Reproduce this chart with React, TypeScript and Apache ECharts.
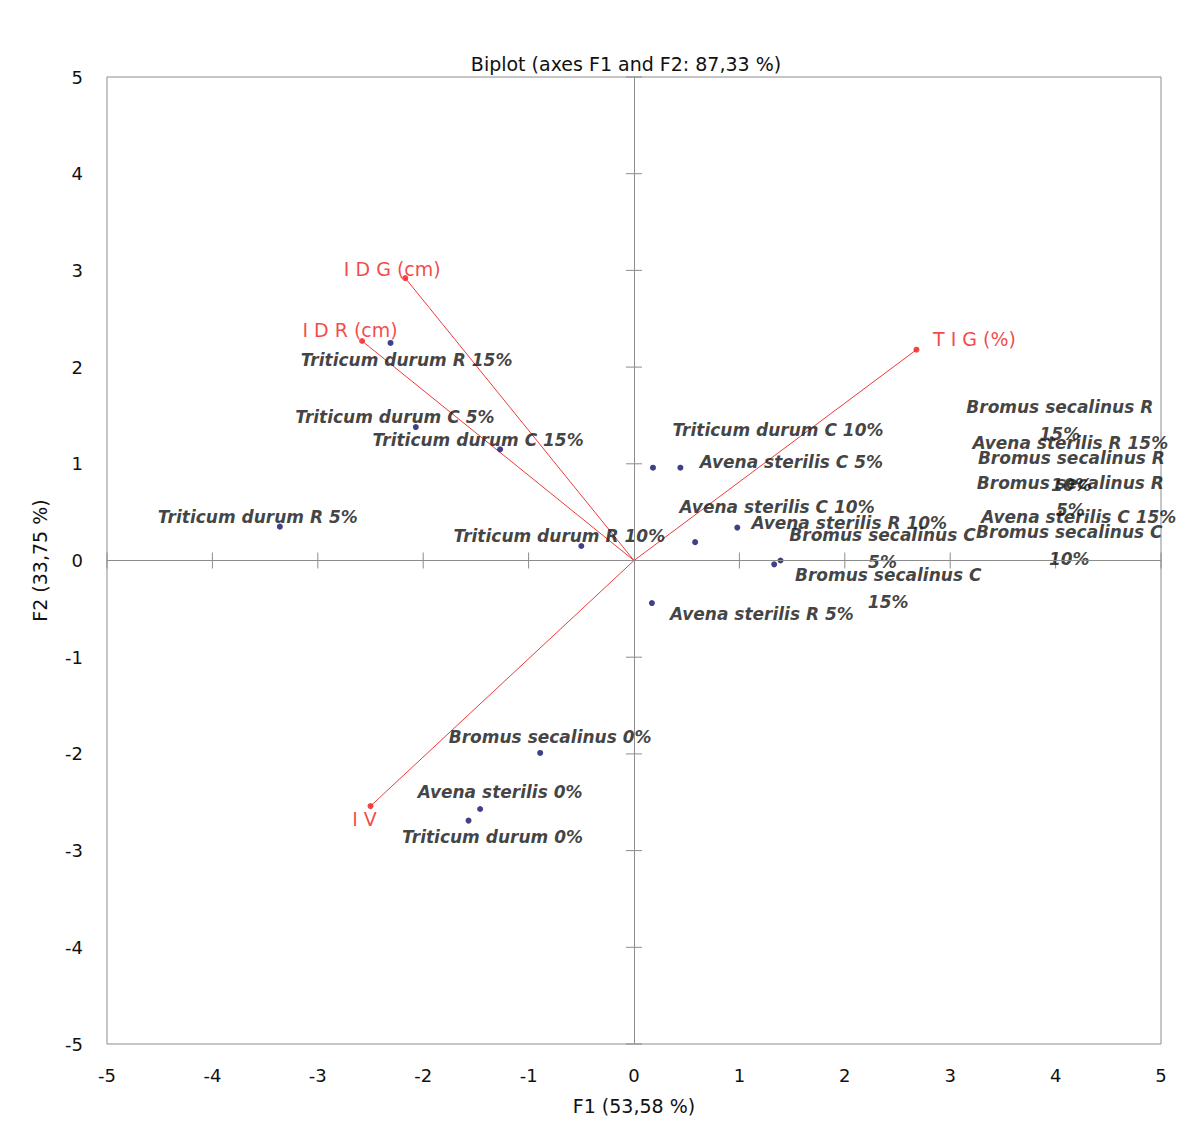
import React, { useEffect, useRef } from "react";
import * as echarts from "echarts";

// ---- Data ----
const titleText = "Biplot (axes F1 and F2: 87,33 %)";
const xAxisName = "F1 (53,58 %)";
const yAxisName = "F2 (33,75 %)";
const axisTicks = [-5, -4, -3, -2, -1, 0, 1, 2, 3, 4, 5];

// Observations (F1, F2)
const obsNames = [
  "Triticum durum R 15%",
  "Triticum durum C 5%",
  "Triticum durum C 15%",
  "Triticum durum R 5%",
  "Triticum durum R 10%",
  "Triticum durum C 10%",
  "Avena sterilis C 5%",
  "Avena sterilis C 10%",
  "Avena sterilis R 10%",
  "Bromus secalinus C\n5%",
  "Bromus secalinus C\n15%",
  "Avena sterilis R 5%",
  "Bromus secalinus 0%",
  "Avena sterilis 0%",
  "Triticum durum 0%",
];
const obsF1 = [-2.31, -2.07, -1.27, -3.36, -0.5, 0.18, 0.44, 0.58, 0.98, 1.39, 1.33, 0.17, -0.89, -1.46, -1.57];
const obsF2 = [2.25, 1.38, 1.15, 0.35, 0.15, 0.96, 0.96, 0.19, 0.34, 0.0, -0.04, -0.44, -1.99, -2.57, -2.69];

// Observations whose points lie beyond the right edge: only their labels show (label anchors)
const offNames = [
  "Bromus secalinus R\n15%",
  "Avena sterilis R 15%",
  "Bromus secalinus R\n10%",
  "Bromus secalinus R\n5%",
  "Avena sterilis C 15%",
  "Bromus secalinus C\n10%",
];
const offF1 = [4.04, 4.14, 4.15, 4.14, 4.22, 4.13];
const offF2 = [1.45, 1.22, 0.92, 0.66, 0.45, 0.16];

// Variables (vectors)
const varNames = ["I D G (cm)", "I D R (cm)", "T I G (%)", "I V"];
const varF1 = [-2.17, -2.58, 2.68, -2.5];
const varF2 = [2.92, 2.27, 2.18, -2.54];

// ---- Layout (label offsets in pixels) ----
const obsLabelOffset = [
  [16, 17], [-21, -10], [-22, -9], [-22, -10], [-22, -10],
  [125, -38], [111, -6], [82, -35], [112, -5], [102, -12],
  [114, 24], [110, 11], [10, -16], [20, -17], [24, 16],
];
const varLabelOffset = [[-13, -9], [-12, -11], [58, -11], [-6, 13]];

const LABEL_FONT = "'DejaVu Sans', 'Noto Sans', sans-serif";

export default function App() {
  const ref = useRef<HTMLDivElement>(null);
  useEffect(() => {
    document.body.style.margin = "0";
    const chart = echarts.init(ref.current!, null, { renderer: "svg" });

    const obsLabelStyle = {
      fontFamily: LABEL_FONT,
      fontStyle: "italic" as const,
      fontWeight: "bold" as const,
      fontSize: 17,
      color: "#111111",
      lineHeight: 27,
      align: "center" as const,
      verticalAlign: "middle" as const,
    };

    const option: any = {
      animation: false,
      backgroundColor: "#ffffff",
      title: {
        text: titleText,
        left: 621,
        top: 49,
        textAlign: "center",
        textStyle: { fontFamily: LABEL_FONT, fontSize: 19, fontWeight: "normal", color: "#111111" },
      },
      grid: {
        left: 107,
        right: 25,
        top: 77,
        bottom: 89,
        show: true,
        borderColor: "#8c8c8c",
        borderWidth: 1,
        backgroundColor: "transparent",
      },
      xAxis: {
        type: "value",
        min: -5,
        max: 5,
        interval: 1,
        name: xAxisName,
        nameLocation: "middle",
        nameGap: 52,
        nameTextStyle: { fontFamily: LABEL_FONT, fontSize: 19, color: "#111111" },
        axisLine: { show: false, onZero: false },
        axisTick: { show: false },
        splitLine: { show: false },
        axisLabel: { fontFamily: LABEL_FONT, fontSize: 18, color: "#111111", margin: 22 },
      },
      yAxis: {
        type: "value",
        min: -5,
        max: 5,
        interval: 1,
        name: yAxisName,
        nameLocation: "middle",
        nameGap: 58,
        nameTextStyle: { fontFamily: LABEL_FONT, fontSize: 19, color: "#111111" },
        axisLine: { show: false, onZero: false },
        axisTick: { show: false },
        splitLine: { show: false },
        axisLabel: { fontFamily: LABEL_FONT, fontSize: 18, color: "#111111", margin: 24 },
      },
      series: [
        {
          type: "custom",
          silent: true,
          z: 1,
          data: axisTicks.filter((v) => v !== 0).map((v) => [v]),
          renderItem: (params: any, api: any) => {
            const v = api.value(0);
            const px = api.coord([v, 0]);
            const py = api.coord([0, v]);
            const st = { stroke: "#8c8c8c", lineWidth: 1 };
            return {
              type: "group",
              children: [
                { type: "line", shape: { x1: px[0], y1: px[1] - 8, x2: px[0], y2: px[1] + 8 }, style: st },
                { type: "line", shape: { x1: py[0] - 8, y1: py[1], x2: py[0] + 8, y2: py[1] }, style: st },
              ],
            };
          },
          markLine: {
            silent: true,
            symbol: "none",
            label: { show: false },
            lineStyle: { color: "#8c8c8c", width: 1, type: "solid" },
            data: [{ xAxis: 0 }, { yAxis: 0 }],
          },
        },
        {
          type: "lines",
          coordinateSystem: "cartesian2d",
          silent: true,
          z: 2,
          lineStyle: { color: "#ee3b3b", width: 1, opacity: 1 },
          data: varNames.map((_, i) => ({ coords: [[0, 0], [varF1[i], varF2[i]]] })),
        },
        {
          type: "scatter",
          z: 3,
          symbol: "circle",
          symbolSize: 6,
          itemStyle: { color: "#f01818" },
          data: varNames.map((n, i) => ({
            value: [varF1[i], varF2[i]],
            name: n,
            label: { offset: varLabelOffset[i] },
          })),
          label: {
            show: true,
            position: "inside",
            formatter: (p: any) => p.name,
            fontFamily: LABEL_FONT,
            fontSize: 19,
            color: "#f01818",
            align: "center",
            verticalAlign: "middle",
          },
        },
        {
          type: "scatter",
          z: 4,
          symbol: "circle",
          symbolSize: 6,
          itemStyle: { color: "#10106a" },
          data: obsNames.map((n, i) => ({
            value: [obsF1[i], obsF2[i]],
            name: n,
            label: { offset: obsLabelOffset[i] },
          })),
          label: {
            show: true,
            position: "inside",
            formatter: (p: any) => p.name,
            ...obsLabelStyle,
          },
        },
        {
          type: "scatter",
          z: 4,
          symbolSize: 0,
          itemStyle: { color: "transparent" },
          data: offNames.map((n, i) => ({ value: [offF1[i], offF2[i]], name: n })),
          label: {
            show: true,
            position: "inside",
            formatter: (p: any) => p.name,
            ...obsLabelStyle,
          },
        },
      ],
    };
    chart.setOption(option);
    return () => chart.dispose();
  }, []);
  return <div ref={ref} style={{ width: 1186, height: 1133 }} />;
}
